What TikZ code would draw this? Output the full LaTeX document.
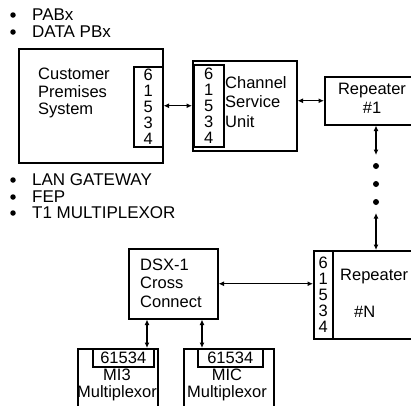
\documentclass[tikz,border=0pt]{standalone}
\usepackage{fontspec}
\setmainfont{Liberation Sans}
\usetikzlibrary{arrows.meta,positioning}
\tikzset{
  % Plain box, placed by its top left corner
  BX/.style={rectangle,draw,line width=1.5pt,inner sep=0pt,anchor=north west},
  % Port number strip under a multiplexor top edge
  ID/.style={BX,font=\fontsize{16.5}{17}\selectfont},
  % Box text
  TX/.style={align=left,inner sep=0pt,anchor=west,
             font=\fontsize{16.5}{18}\selectfont},
  % Centred box text
  TC/.style={align=center,inner sep=0pt,
             font=\fontsize{16.5}{17}\selectfont},
  % Digit column 6-1-5-3-4
  DG/.style={align=center,inner sep=0pt,
             font=\fontsize{16.5}{16}\selectfont},
  % Bullet list
  BL/.style={inner sep=0pt,anchor=west,font=\fontsize{17}{17}\selectfont},
  bul/.style={circle,fill,inner sep=0pt,minimum size=5.5pt},
  % Two-headed arrow
  arr/.style={{Latex[length=5.5pt,width=5pt]}-{Latex[length=5.5pt,width=5pt]},
              line width=1.2pt},
  % Dots between repeaters
  dot/.style={circle,fill,inner sep=0pt,minimum size=6pt}
}
\begin{document}
\begin{tikzpicture}[x=1pt,y=-1pt]
  \useasboundingbox (0,0) rectangle (411,405);
  \clip (0,0) rectangle (411,405);

  %------ CUSTOMER SIDE LIST ------
  \node[bul] (b1) at (13,15)  {};
  \node[BL]  (pabx)  at (32,15)  {PABx};
  \node[bul] (b2) at (13,32)  {};
  \node[BL]  (dpbx)  at (32,32)  {DATA PBx};
  \node[bul] (b3) at (13,180) {};
  \node[BL]  (lan)   at (32,180) {LAN GATEWAY};
  \node[bul] (b4) at (13,197) {};
  \node[BL]  (fep)   at (32,197) {FEP};
  \node[bul] (b5) at (13,213) {};
  \node[BL]  (tmux)  at (32,213) {T1 MULTIPLEXOR};

  %------ CUSTOMER PREMISES ------
  \node[BX,minimum width=144,minimum height=114] (cps)   at (18,48)  {};
  \node[BX,minimum width=29,minimum height=80]   (cpsid) at (133,66) {};
  \node[DG] at (cpsid.center) {6\\1\\5\\3\\4};
  \node[TX,font=\fontsize{16.5}{17.5}\selectfont] (cpstx) at (38,93)
    {Customer\\Premises\\System};

  %------ CHANNEL SERVICE UNIT ------
  \node[BX,minimum width=104,minimum height=90] (csu)   at (192,60)  {};
  \node[BX,minimum width=30,minimum height=82]  (csuid) at (193,64)  {};
  \node[DG] at (csuid.center) {6\\1\\5\\3\\4};
  \node[TX,font=\fontsize{16.5}{19.5}\selectfont] (csutx) at (225,102)
    {Channel\\Service\\Unit};

  %------ REPEATERS ------
  \node[BX,minimum width=100,minimum height=48] (rep1) at (324,76) {};
  \node[TC,font=\fontsize{16.5}{19}\selectfont] (rep1tx) at (372,98)
    {Repeater\\\#1};

  \node[dot] (d1) at (376,166) {};
  \node[dot] (d2) at (376,184) {};
  \node[dot] (d3) at (376,202) {};
  \coordinate (up) at (376,155);
  \coordinate (dn) at (376,213);

  \node[BX,minimum width=110,minimum height=88] (repN)   at (313,250) {};
  \node[BX,minimum width=19,minimum height=88]  (repNid) at (313,250) {};
  \node[DG] at (repNid.center) {6\\1\\5\\3\\4};
  \node[TX] (repNa) at (340,277) {Repeater};
  \node[TX] (repNb) at (354,312) {\#N};

  %------ CENTRAL OFFICE ------
  \node[BX,minimum width=89,minimum height=70] (dsx) at (128,248) {};
  \node[TX,font=\fontsize{16.5}{18.5}\selectfont] (dsxtx) at (140,283)
    {DSX-1\\Cross\\Connect};

  \node[BX,minimum width=80,minimum height=70] (mi3)   at (77,348) {};
  \node[ID,minimum width=61,minimum height=18] (mi3id) at (92,348) {61534};
  \node[TC] (mi3tx) at (117,385) {MI3\\Multiplexor};

  \node[BX,minimum width=90,minimum height=70] (mic)   at (183,348) {};
  \node[ID,minimum width=65,minimum height=18] (micid) at (197,348) {61534};
  \node[TC] (mictx) at (227,385) {MIC\\Multiplexor};

  % Line arrows
  \draw[arr](cps.east)--(csu.west);
  \draw[arr](csu.east |- rep1.west)--(rep1.west);
  \draw[arr](d1 |- rep1.south)--(up);
  \draw[arr](dn)--(d1 |- repN.north);
  \draw[arr](dsx.east)--(dsx.east -| repN.west);

  % Drops to multiplexors
  \draw[arr]([xshift=19]dsx.south west)--([xshift=19]dsx.south west |- mi3.north);
  \draw[arr]([xshift=74]dsx.south west)--([xshift=74]dsx.south west |- mic.north);
\end{tikzpicture}
\end{document}
